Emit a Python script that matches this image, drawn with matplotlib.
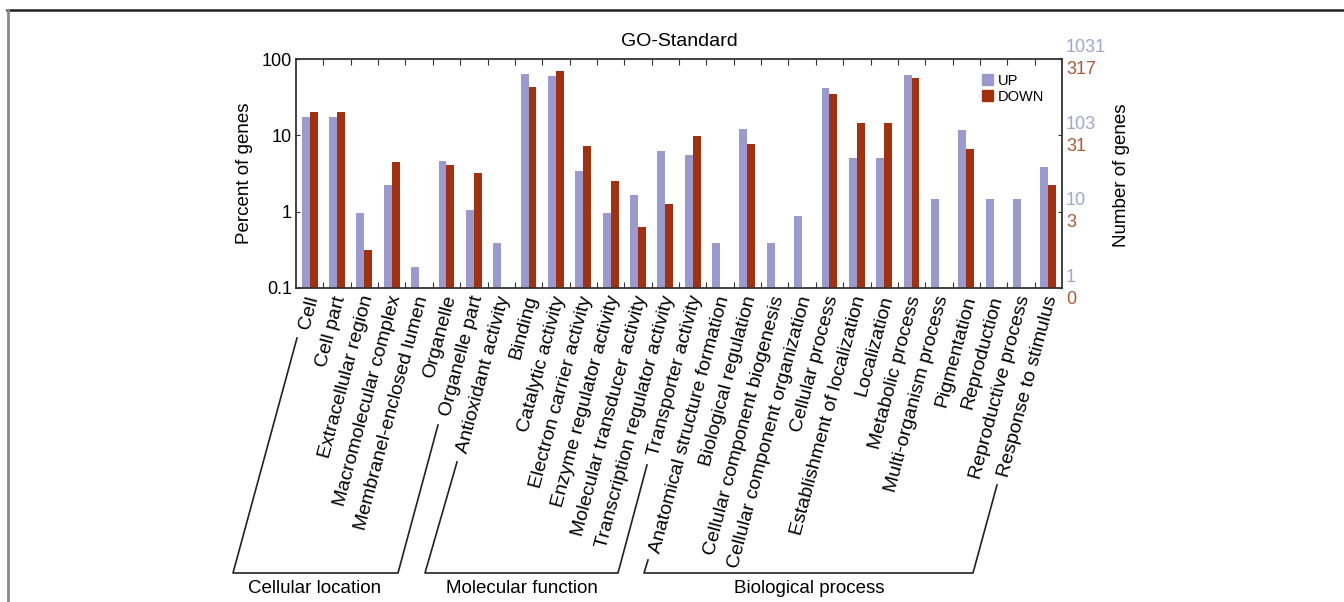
import numpy as np
import matplotlib
matplotlib.use("Agg")
import matplotlib.pyplot as plt
from matplotlib.lines import Line2D
from matplotlib.patches import Patch
from matplotlib.transforms import offset_copy, blended_transform_factory

plt.rcParams['font.family'] = ['Liberation Sans', 'DejaVu Sans']

# GO categories (28) in plot order
categories = [
    "Cell", "Cell part", "Extracellular region", "Macromolecular complex",
    "Membranel-enclosed lumen", "Organelle", "Organelle part",
    "Antioxidant activity", "Binding", "Catalytic activity",
    "Electron carrier activity", "Enzyme regulator activity",
    "Molecular transducer activity", "Transcription regulator activity",
    "Transporter activity", "Anatomical structure formation",
    "Biological regulation", "Cellular component biogenesis",
    "Cellular component organization", "Cellular process",
    "Establishment of localization", "Localization", "Metabolic process",
    "Multi-organism process", "Pigmentation", "Reproduction",
    "Reproductive process", "Response to stimulus",
]

# percent of genes (nan = no bar)
up = [17.6, 17.6, 0.97, 2.23, 0.19, 4.6, 1.06,
      0.385, 64.0, 60.0, 3.4, 0.97, 1.65, 6.2, 5.6,
      0.385, 12.2, 0.385, 0.88, 42.0, 5.1, 5.1, 61.5,
      1.47, 11.6, 1.47, 1.47, 3.85]
down = [20.2, 20.2, 0.31, 4.45, np.nan, 4.13, 3.18,
        np.nan, 43.0, 70.0, 7.3, 2.52, 0.63, 1.27, 9.9,
        np.nan, 7.7, np.nan, np.nan, 34.5, 14.4, 14.4, 56.0,
        np.nan, 6.7, np.nan, np.nan, 2.23]

# right axis labels (number of genes) at percent decades
decades = [100, 10, 1, 0.1]
up_counts = ["1031", "103", "10", "1"]
down_counts = ["317", "31", "3", "0"]

groups = ["Cellular location", "Molecular function", "Biological process"]

c_up = "#9a9acf"
c_down = "#a3300f"
c_up_txt = "#a5a5d3"
c_down_txt = "#ad5a35"

W, H = 1344, 602
fig = plt.figure(figsize=(W / 100, H / 100), dpi=100)
ax = fig.add_axes([296 / W, 1 - 288 / H, (1062 - 296) / W, (288 - 59) / H])

x = np.arange(len(categories))
up = np.array(up)
down = np.array(down)
w = 0.29
m = ~np.isnan(up)
ax.bar(x[m] - w / 2, up[m] - 0.1, w, bottom=0.1, color=c_up, label="UP")
m = ~np.isnan(down)
ax.bar(x[m] + w / 2, down[m] - 0.1, w, bottom=0.1, color=c_down, label="DOWN")

ax.set_yscale("log")
ax.set_ylim(0.1, 100)
ax.set_xlim(-0.5, len(categories) - 0.5)
ax.set_yticks(decades)
ax.set_yticklabels(["100", "10", "1", "0.1"], fontsize=13)
ax.yaxis.set_minor_locator(matplotlib.ticker.NullLocator())
ax.tick_params(axis="y", direction="in", length=3, pad=3, right=True, color="#333333")
ax.set_xticks(np.arange(len(categories) - 1) + 0.5)
ax.set_xticklabels([])
ax.tick_params(axis="x", direction="in", length=4, top=True, color="#333333")
for s in ax.spines.values():
    s.set_linewidth(1.3)
    s.set_color("#333333")

ax.set_ylabel("Percent of genes", fontsize=13.5, labelpad=6)
ax.set_title("GO-Standard", fontsize=14, pad=9)

# category labels
tr = offset_copy(ax.get_xaxis_transform(), fig=fig, x=4, y=-8, units="dots")
for i, lab in enumerate(categories):
    ax.text(i, 0, lab, transform=tr, rotation=75, ha="right", va="center",
            rotation_mode="anchor", fontsize=14)

# right side gene counts
bt = blended_transform_factory(ax.transAxes, ax.transData)
for d, a, b in zip(decades, up_counts, down_counts):
    ax.text(1.0, d, a, transform=offset_copy(bt, fig=fig, x=4, y=11, units="dots"),
            ha="left", va="center", color=c_up_txt, fontsize=13)
    ax.text(1.0, d, b, transform=offset_copy(bt, fig=fig, x=4, y=-11, units="dots"),
            ha="left", va="center", color=c_down_txt, fontsize=13)
fig.text(1122 / W, 1 - 175 / H, "Number of genes", rotation=90, ha="center",
         va="center", fontsize=13.5)

ax.legend(handles=[Patch(color=c_up, label="UP"), Patch(color=c_down, label="DOWN")],
          loc="upper right", frameon=False, fontsize=10.5, handlelength=0.8,
          handleheight=0.8, handletextpad=0.3, labelspacing=0.15,
          borderaxespad=0.3, bbox_to_anchor=(0.99, 0.98))

# group brackets (pixel geometry)
brackets = [
    [(297, 338), (233, 573), (398, 573), (438, 425)],
    [(457, 462), (425, 573), (618, 573), (647, 465)],
    [(648, 560), (644, 573), (973, 573), (997, 485)],
]
label_x = [315, 522, 809]
for pts, name, lx in zip(brackets, groups, label_x):
    xs = [p[0] / W for p in pts]
    ys = [1 - p[1] / H for p in pts]
    fig.add_artist(Line2D(xs, ys, color="#222222", lw=1.2))
    fig.text(lx / W, 1 - 580 / H, name, ha="center", va="top", fontsize=13.5)

# outer frame lines
fig.add_artist(Line2D([7 / W, 1], [1 - 10 / H, 1 - 10 / H], color="#222222", lw=1.8))
fig.add_artist(Line2D([8 / W, 8 / W], [0, 1 - 10 / H], color="#8a8a8a", lw=2))

fig.savefig("out.png", dpi=100)
